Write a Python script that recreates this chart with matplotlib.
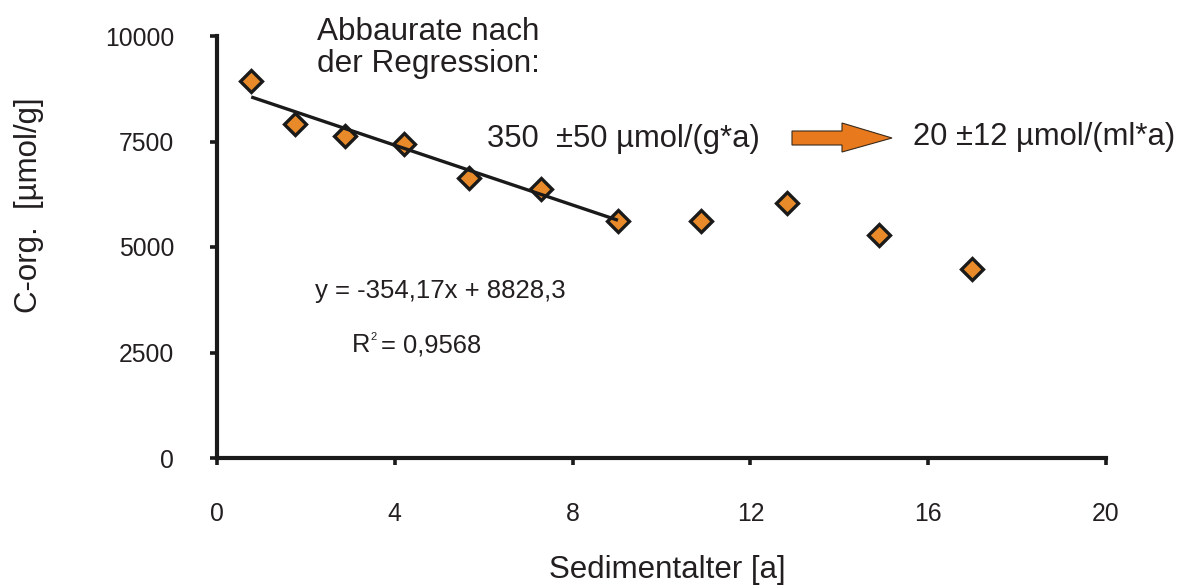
import matplotlib
matplotlib.use("Agg")
import matplotlib.pyplot as plt
from matplotlib.patches import Polygon
import numpy as np

plt.rcParams['font.family'] = ['Liberation Sans', 'DejaVu Sans']

# sediment age [a] and organic carbon content [µmol/g]
age = [0.77, 1.75, 2.88, 4.21, 5.67, 7.29, 9.02, 10.89, 12.82, 14.89, 16.99]
corg = [8930, 7915, 7630, 7440, 6635, 6375, 5615, 5615, 6045, 5285, 4480]

# linear regression over the upper part of the core
slope = -354.17
intercept = 8828.3
n_fit = 7

x_ticks = [0, 4, 8, 12, 16, 20]
y_ticks = [0, 2500, 5000, 7500, 10000]

ink = '#231f20'
orange_pt = '#e88a2a'
orange_arrow = '#e8791c'

W, H = 1191, 586
fig = plt.figure(figsize=(W / 100, H / 100), dpi=100)


def fx(px):
    return px / W


def fy(py):
    return 1 - py / H


ax = fig.add_axes([fx(217), fy(458), (1106 - 217) / W, (458 - 36) / H])
ax.set_xlim(0, 20)
ax.set_ylim(0, 10000)

for side in ('top', 'right'):
    ax.spines[side].set_visible(False)
for side in ('left', 'bottom'):
    ax.spines[side].set_linewidth(3.0)
    ax.spines[side].set_color('#1a1a1a')
    ax.spines[side].set_capstyle('projecting')

ax.set_xticks(x_ticks)
ax.set_yticks(y_ticks)
ax.set_xticklabels([str(v) for v in x_ticks])
ax.set_yticklabels([str(v) for v in y_ticks])
ax.tick_params(axis='both', direction='out', length=5, width=2.6,
               color='#1a1a1a', labelsize=17.8, labelcolor=ink)
ax.tick_params(axis='x', pad=27)
ax.tick_params(axis='y', pad=26)

# data points
ax.plot(age, corg, linestyle='none', marker='D', markersize=11,
        markerfacecolor=orange_pt, markeredgecolor='#1a1a1a',
        markeredgewidth=2.4, zorder=3, clip_on=False)

# regression line
xf = np.array([age[0], age[n_fit - 1]])
ax.plot(xf, slope * xf + intercept, color='#1a1a1a', linewidth=2.4,
        solid_capstyle='butt', zorder=4)

# axis labels
fig.text(fx(667), fy(578), 'Sedimentalter [a]', fontsize=22.5, color=ink,
         ha='center', va='baseline')
fig.text(fx(29), fy(205), 'C-org.  [µmol/g]', fontsize=22.5, color=ink,
         ha='center', va='center', rotation=90)

# annotations
fig.text(fx(317), fy(40), 'Abbaurate nach', fontsize=22.7, color=ink,
         va='baseline')
fig.text(fx(317), fy(72), 'der Regression:', fontsize=22.7, color=ink,
         va='baseline')
fig.text(fx(487), fy(147), '350  ±50 µmol/(g*a)', fontsize=22.3, color=ink,
         va='baseline')
fig.text(fx(913), fy(145), '20 ±12 µmol/(ml*a)', fontsize=22.3, color=ink,
         va='baseline')

fig.text(fx(315), fy(298), 'y = -354,17x + 8828,3', fontsize=18.5, color=ink,
         va='baseline')
fig.text(fx(352), fy(352), 'R', fontsize=18.4, color=ink, va='baseline')
fig.text(fx(370), fy(340), '2', fontsize=8, color=ink, va='baseline')
fig.text(fx(381), fy(352), '= 0,9568', fontsize=18.4, color=ink,
         va='baseline')

# conversion arrow
arrow_px = [(792, 131), (842, 131), (842, 123), (892, 138), (842, 152),
            (842, 145), (792, 145)]
arrow = Polygon([(fx(x), fy(y)) for x, y in arrow_px], closed=True,
                transform=fig.transFigure, facecolor=orange_arrow,
                edgecolor='#3a2a1a', linewidth=0.8)
fig.patches.append(arrow)

fig.savefig('out.png', dpi=100)
